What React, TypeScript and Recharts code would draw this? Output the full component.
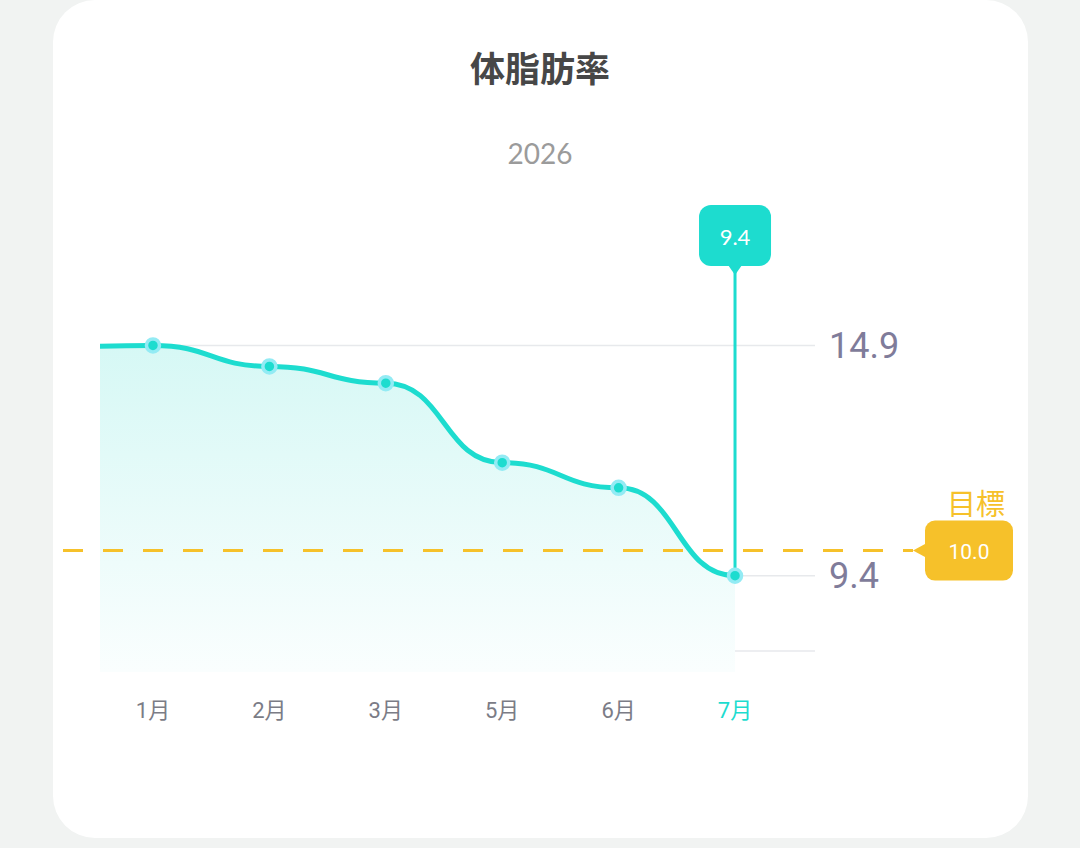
import { Area, ComposedChart, CartesianGrid, XAxis, YAxis, ReferenceLine } from "recharts"

const months = ["1月", "2月", "3月", "5月", "6月", "7月"]
const fatRate = [14.9, 14.4, 14.0, 12.1, 11.5, 9.4]
// last reading of the previous year, only its curve tail shows at the left edge
const prevMonth = "12月"
const prevRate = 14.85
const target = 10.0
const gridFloor = 7.6
const yTicks = [9.4, 14.9]
const yDomain = [7.1, 16.75]
const xDomain = [-0.455, 5.687]

const data = [
  { idx: -1, label: prevMonth, value: prevRate },
  ...months.map((m, i) => ({ idx: i, label: m, value: fatRate[i] })),
]
const lastIdx = months.length - 1
const lastValue = fatRate[lastIdx]

const teal = "#1ddccf"
const yellow = "#f6c12a"
const cjk = "Roboto, 'Noto Sans CJK JP', sans-serif"

function MonthTick(props: any) {
  const { x, y, payload } = props
  const active = payload.value === lastIdx
  return (
    <text x={x} y={y + 36} textAnchor="middle" dominantBaseline="central" fontSize={22}
      fontFamily={cjk} fill={active ? teal : "#7b7c86"}>
      {months[payload.value]}
    </text>
  )
}

function Dot(props: any) {
  const { cx, cy, payload } = props
  if (payload.idx < 0) return <g key="prev" />
  return <circle key={payload.idx} cx={cx} cy={cy} r={6.5} fill={teal} stroke="#93ebf4" strokeWidth={3.5} />
}

function TargetShape(props: any) {
  const left = Math.min(props.x1, props.x2)
  const right = Math.max(props.x1, props.x2)
  const y = props.y1
  return (
    <g>
      <line x1={left - 37} x2={right + 98} y1={y} y2={y} stroke={yellow} strokeWidth={3} strokeDasharray="20 20" />
      <polygon points={`${right + 98},${y} ${right + 111},${y - 7} ${right + 111},${y + 7}`} fill={yellow} />
      <rect x={right + 110} y={y - 30} width={88} height={60} rx={10} fill={yellow} />
      <text x={right + 154} y={y + 1} textAnchor="middle" dominantBaseline="central" fontSize={21}
        fontFamily="Roboto, sans-serif" fill="#fff">{target.toFixed(1)}</text>
      <text x={right + 161} y={y - 46} textAnchor="middle" dominantBaseline="central" fontSize={29}
        fontFamily={cjk} fill={yellow}>目標</text>
    </g>
  )
}

function CursorShape(props: any) {
  const { x1, y1, y2 } = props
  const top = Math.min(y1, y2)
  const bottom = Math.max(y1, y2)
  return (
    <g>
      <line x1={x1} x2={x1} y1={bottom} y2={top} stroke={teal} strokeWidth={3} />
      <rect x={x1 - 36} y={top - 63} width={72} height={61} rx={12} fill={teal} />
      <polygon points={`${x1 - 7},${top - 3} ${x1 + 7},${top - 3} ${x1},${top + 7}`} fill={teal} />
      <text x={x1} y={top - 32} textAnchor="middle" dominantBaseline="central" fontSize={22}
        fontFamily="Lato, sans-serif" fill="#fff">{lastValue.toFixed(1)}</text>
    </g>
  )
}

export default function App() {
  return (
    <div style={{ position: "absolute", left: 0, top: 0, width: 1080, height: 848, background: "#f1f3f2", overflow: "hidden" }}>
      <div style={{ position: "absolute", left: 53, top: 0, width: 975, height: 838, background: "#fff", borderRadius: 42 }} />
      <div style={{ position: "absolute", left: 0, width: 1080, top: 43, textAlign: "center", fontFamily: "'Noto Sans CJK JP', sans-serif", fontWeight: 700, fontSize: 35, color: "#474747", lineHeight: "48px" }}>
        体脂肪率
      </div>
      <div style={{ position: "absolute", left: 0, width: 1080, top: 134, textAlign: "center", fontFamily: "Lato, sans-serif", fontSize: 28, color: "#9b9b9b", lineHeight: "38px" }}>
        2026
      </div>
      <div style={{ position: "absolute", left: 0, top: 0 }}>
        <ComposedChart width={1080} height={848} data={data} margin={{ top: 268, right: 185, bottom: 136, left: 100 }}>
          <defs>
            <linearGradient id="fatFill" x1="0" y1="0" x2="0" y2="1">
              <stop offset="0%" stopColor="#d6f8f5" />
              <stop offset="100%" stopColor="#fafefe" />
            </linearGradient>
          </defs>
          <CartesianGrid vertical={false} horizontalValues={[gridFloor, ...yTicks]} stroke="#e7e9ec" strokeWidth={1.5} />
          <XAxis dataKey="idx" type="number" domain={xDomain} allowDataOverflow ticks={months.map((_, i) => i)}
            height={40} axisLine={false} tickLine={false} tickSize={0} tick={<MonthTick />} interval={0} />
          <YAxis orientation="right" domain={yDomain} allowDataOverflow ticks={yTicks} width={80}
            axisLine={false} tickLine={false} tickMargin={8}
            tick={{ fill: "#7f7c9a", fontSize: 36, fontFamily: "Roboto, sans-serif" }} />
          <ReferenceLine y={target} shape={<TargetShape />} />
          <Area type="bump" dataKey="value" stroke={teal} strokeWidth={5} fill="url(#fatFill)" fillOpacity={1}
            dot={<Dot />} activeDot={false} isAnimationActive={false} />
          <ReferenceLine segment={[{ x: lastIdx, y: lastValue }, { x: lastIdx, y: yDomain[1] }]} shape={<CursorShape />} />
        </ComposedChart>
      </div>
    </div>
  )
}
